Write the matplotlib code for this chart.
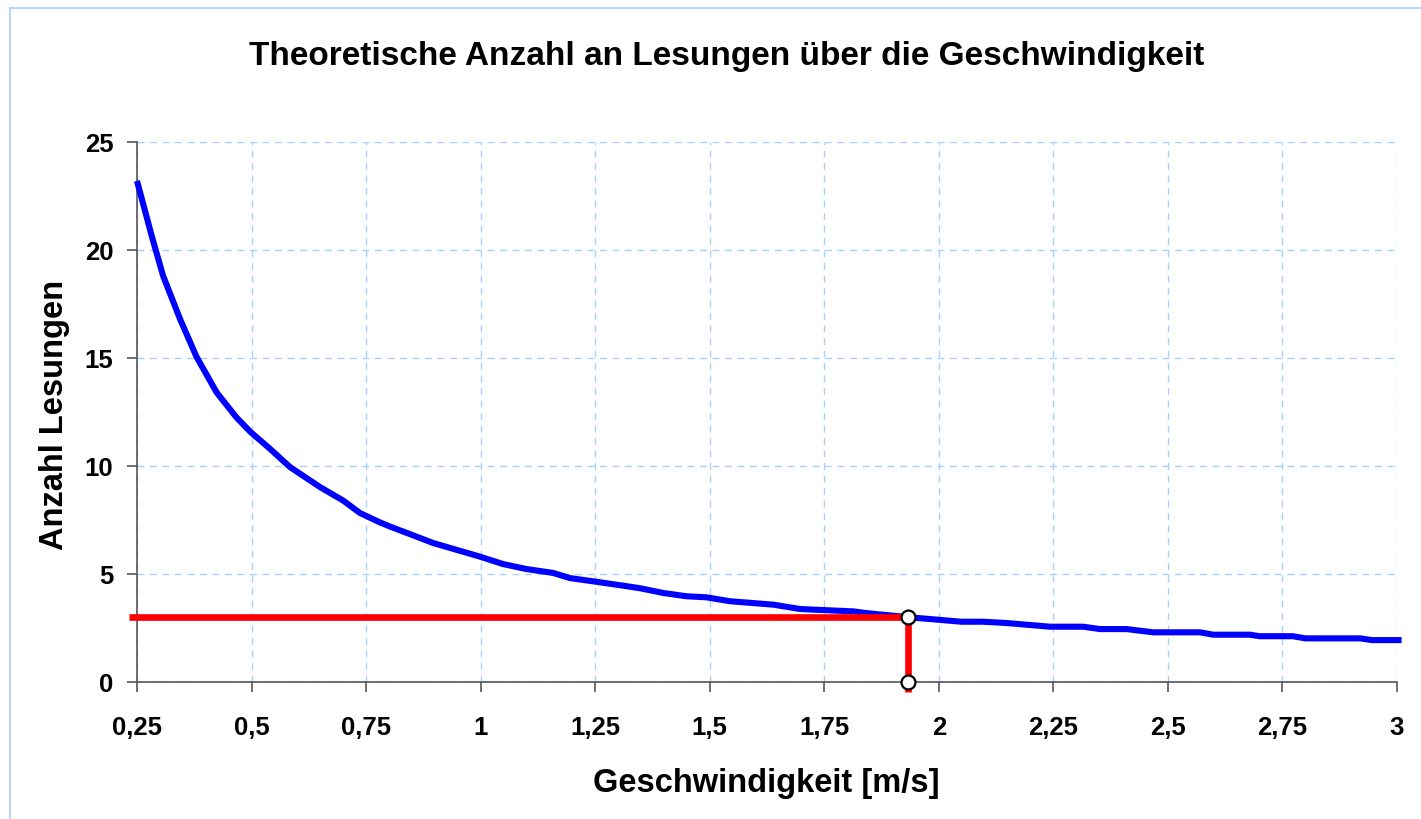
import matplotlib
matplotlib.use("Agg")
import matplotlib.pyplot as plt
from matplotlib.lines import Line2D
from matplotlib.ticker import FixedLocator

plt.rcParams['font.family'] = ['Liberation Sans', 'DejaVu Sans']

# Blue curve: theoretical number of readings vs speed
speed = [0.25, 0.282, 0.307, 0.344, 0.380, 0.424, 0.467, 0.498, 0.540, 0.584,
         0.649, 0.700, 0.737, 0.780, 0.802, 0.897, 0.996, 1.049, 1.100, 1.158,
         1.195, 1.246, 1.311, 1.348, 1.399, 1.449, 1.493, 1.544, 1.639, 1.697,
         1.748, 1.813, 1.842, 1.933, 2.000, 2.050, 2.097, 2.148, 2.243, 2.315,
         2.352, 2.410, 2.468, 2.570, 2.599, 2.679, 2.700, 2.773, 2.800, 2.920,
         2.945, 3.010]
readings = [23.2, 20.66, 18.8, 16.8, 15.05, 13.4, 12.25, 11.57, 10.8, 9.95,
            9.03, 8.4, 7.82, 7.39, 7.2, 6.43, 5.82, 5.46, 5.23, 5.05,
            4.81, 4.66, 4.46, 4.34, 4.12, 3.97, 3.92, 3.74, 3.58, 3.38,
            3.33, 3.27, 3.19, 3.0, 2.88, 2.79, 2.79, 2.73, 2.56, 2.56,
            2.45, 2.45, 2.30, 2.30, 2.19, 2.19, 2.12, 2.12, 2.02, 2.02,
            1.94, 1.94]

# Red marker line (operating point)
red_x = [0.2325, 1.933, 1.933]
red_y = [3.0, 3.0, -0.45]
marker_x = [1.933, 1.933]
marker_y = [3.0, 0.0]

x_ticks = [0.25, 0.5, 0.75, 1.0, 1.25, 1.5, 1.75, 2.0, 2.25, 2.5, 2.75, 3.0]
x_labels = ['0,25', '0,5', '0,75', '1', '1,25', '1,5', '1,75', '2', '2,25', '2,5', '2,75', '3']
y_ticks = [0, 5, 10, 15, 20, 25]

fig = plt.figure(figsize=(14.21, 8.2), dpi=100)
ax = fig.add_axes([137/1421, 1 - 683/820, (1397 - 137)/1421, (683 - 143)/820])

grid_col = '#A8D0FF'
ax.plot(speed, readings, color='#0000FF', lw=4.4, solid_joinstyle='round',
        solid_capstyle='butt', zorder=3, clip_on=False)
ax.plot(red_x, red_y, color='#FF0000', lw=4.8, solid_capstyle='butt', zorder=4, clip_on=False)
ax.plot(marker_x, marker_y, ls='none', marker='o', ms=10, mfc='white', mec='black',
        mew=1.6, zorder=5, clip_on=False)

ax.set_xlim(0.25, 3.0)
ax.set_ylim(0, 25)
ax.xaxis.set_major_locator(FixedLocator(x_ticks))
ax.set_xticklabels(x_labels)
ax.yaxis.set_major_locator(FixedLocator(y_ticks))
ax.grid(True, color=grid_col, ls=(0, (5, 4)), lw=1.0)
ax.set_axisbelow(True)

for s in ['top', 'right']:
    ax.spines[s].set_visible(False)
for s in ['left', 'bottom']:
    ax.spines[s].set_color('#555555')
    ax.spines[s].set_linewidth(1.2)

ax.tick_params(axis='both', direction='out', length=7, width=1.2, color='#555555',
               labelsize=18.5)
ax.tick_params(axis='y', pad=10)
ax.tick_params(axis='x', pad=16.5)
for lab in ax.get_xticklabels() + ax.get_yticklabels():
    lab.set_fontweight('bold')

fig.text(0.5116, 1 - 65.5/820, 'Theoretische Anzahl an Lesungen über die Geschwindigkeit',
         ha='center', va='baseline', fontsize=24, fontweight='bold')
fig.text(0.539, 1 - 792/820, 'Geschwindigkeit [m/s]', ha='center', va='baseline',
         fontsize=23.5, fontweight='bold')
fig.text(0.0387, 0.494, 'Anzahl Lesungen', ha='center', va='center', rotation=90,
         fontsize=23.5, fontweight='bold')

# Light blue frame of the chart area
fig.add_artist(Line2D([10/1421, 10/1421], [0, 1 - 9/820], transform=fig.transFigure,
                      color='#A8D0FF', lw=1.2))
fig.add_artist(Line2D([10/1421, 1], [1 - 9/820, 1 - 9/820], transform=fig.transFigure,
                      color='#A8D0FF', lw=1.2))

fig.savefig('out.png', dpi=100)
